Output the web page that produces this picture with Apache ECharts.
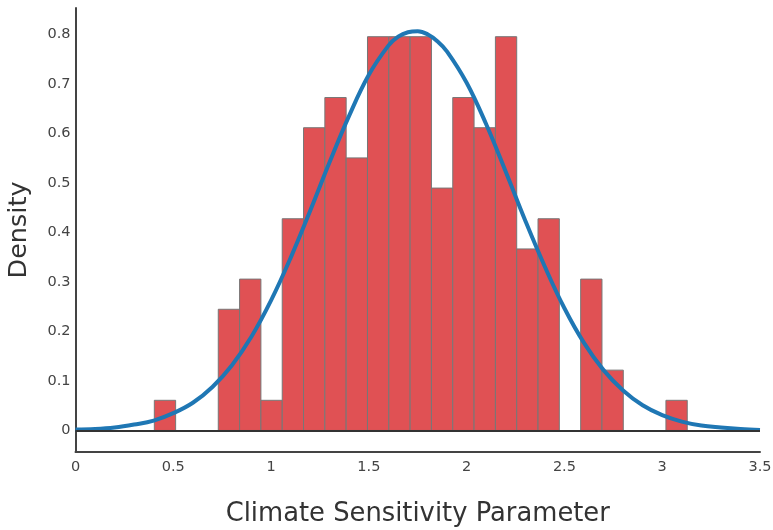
<!DOCTYPE html>
<html>
<head>
<meta charset="utf-8">
<script src="https://cdn.jsdelivr.net/npm/echarts@6/dist/echarts.min.js"></script>
<style>
  html, body { margin: 0; padding: 0; background: #fff; }
  #chart { width: 773px; height: 530px; }
</style>
</head>
<body>
<div id="chart"></div>
<script>
// histogram bin edges (26 edges -> 25 bins)
const binEdges = [0.403, 0.512, 0.621, 0.730, 0.839, 0.948, 1.057, 1.166, 1.275, 1.384,
  1.493, 1.602, 1.711, 1.820, 1.929, 2.038, 2.147, 2.256, 2.365, 2.474,
  2.583, 2.692, 2.801, 2.910, 3.019, 3.128]
// density of each bin
const densities = [0.061, 0, 0, 0.245, 0.306, 0.061, 0.428, 0.612, 0.673, 0.551,
  0.796, 0.796, 0.796, 0.490, 0.673, 0.612, 0.796, 0.367, 0.428, 0,
  0.306, 0.122, 0, 0, 0.061]

// fitted curve
const curveX = [0, 0.1, 0.2, 0.3, 0.4, 0.5, 0.6, 0.7, 0.8, 0.9, 1.0, 1.1, 1.2, 1.3, 1.4, 1.5, 1.6, 1.65, 1.7,
  1.75, 1.8, 1.85, 1.9, 2.0, 2.1, 2.2, 2.3, 2.4, 2.5, 2.6, 2.7, 2.8, 2.9, 3.0, 3.1, 3.2, 3.3, 3.4, 3.5]
const curveY = [0.002, 0.003, 0.006, 0.012, 0.020, 0.035, 0.056, 0.088, 0.132, 0.190, 0.263, 0.349,
  0.444, 0.543, 0.637, 0.719, 0.778, 0.796, 0.805, 0.807, 0.801, 0.787, 0.766, 0.703, 0.619, 0.523,
  0.424, 0.331, 0.247, 0.177, 0.122, 0.081, 0.051, 0.031, 0.018, 0.010, 0.006, 0.003, 0.001]

const xTicks = [0, 0.5, 1, 1.5, 2, 2.5, 3, 3.5]

const font = 'DejaVu Sans, Verdana, sans-serif'

const barData = densities.map((d, i) => [binEdges[i], binEdges[i + 1], d])
const curveData = curveX.map((x, i) => [x, curveY[i]])

const chart = echarts.init(document.getElementById('chart'))

chart.setOption({
  animation: false,
  grid: { left: 75.5, right: 13, top: 8, bottom: 78, outerBoundsMode: 'none' },
  xAxis: {
    type: 'value',
    min: xTicks[0],
    max: xTicks[xTicks.length - 1],
    interval: 0.5,
    name: 'Climate Sensitivity Parameter',
    nameLocation: 'middle',
    nameGap: 49,
    nameTextStyle: { fontFamily: font, fontSize: 25.8, color: '#333' },
    axisLine: { show: true, onZero: false, lineStyle: { color: '#444', width: 2 } },
    axisTick: { show: false },
    splitLine: { show: false },
    axisLabel: { fontFamily: font, fontSize: 14.5, color: '#444', margin: 8 }
  },
  yAxis: {
    type: 'value',
    min: -0.0435,
    max: 0.854,
    splitNumber: 9,
    name: 'Density',
    nameLocation: 'middle',
    nameGap: 43,
    nameTextStyle: { fontFamily: font, fontSize: 25.5, color: '#333' },
    axisLine: { show: true, lineStyle: { color: '#444', width: 2 } },
    axisTick: { show: false },
    splitLine: { show: false },
    axisLabel: {
      fontFamily: font, fontSize: 14.5, color: '#444', margin: 5,
      showMinLabel: false, showMaxLabel: false,
      formatter: v => Math.abs(v * 10 - Math.round(v * 10)) > 1e-6 ? '' : String(+v.toFixed(1))
    }
  },
  series: [
    {
      type: 'custom',
      data: barData,
      renderItem: (params, api) => {
        const p0 = api.coord([api.value(0), api.value(2)])
        const p1 = api.coord([api.value(1), 0])
        if (api.value(2) <= 0) return null
        return {
          type: 'rect',
          shape: { x: p0[0], y: p0[1], width: p1[0] - p0[0], height: p1[1] - p0[1] },
          style: { fill: '#e05154', stroke: '#777', lineWidth: 1 }
        }
      },
      encode: { x: [0, 1], y: 2 },
      z: 2,
      markLine: {
        silent: true,
        symbol: 'none',
        label: { show: false },
        lineStyle: { color: '#333', width: 2, type: 'solid' },
        data: [{ yAxis: 0 }]
      }
    },
    {
      type: 'line',
      data: curveData,
      smooth: 0.4,
      showSymbol: false,
      lineStyle: { color: '#1f77b4', width: 4 },
      z: 4
    }
  ]
})
</script>
</body>
</html>
